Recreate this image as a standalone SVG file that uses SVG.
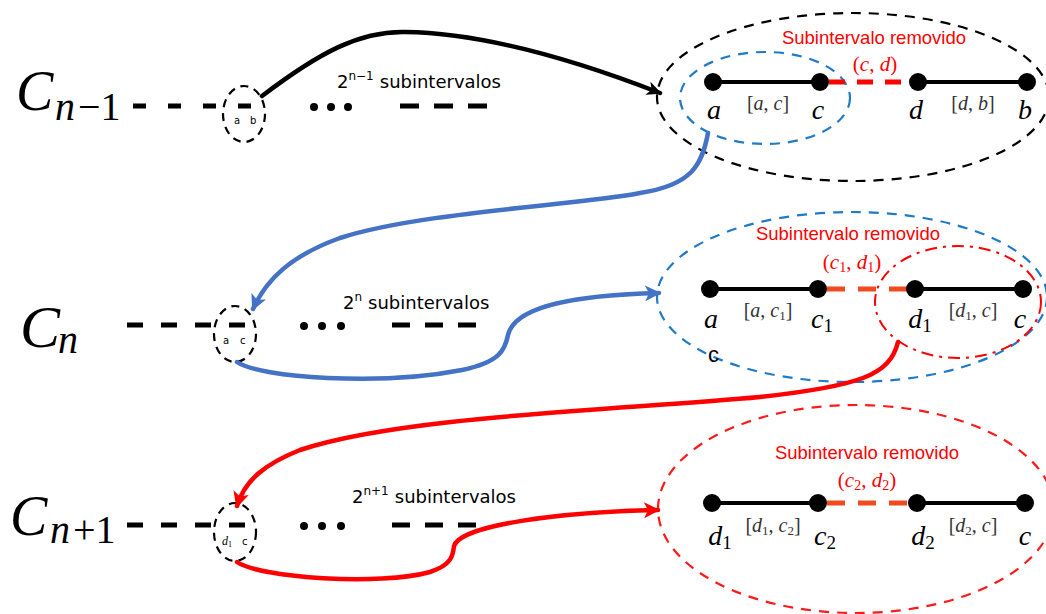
<svg xmlns="http://www.w3.org/2000/svg" width="1046" height="614" viewBox="0 0 1046 614">
<style>
.bg{fill:#ffffff}
.cap{font-family:"Liberation Serif","DejaVu Serif",serif;font-style:italic;fill:#000}
.sub{font-family:"Liberation Serif","DejaVu Serif",serif;fill:#000}
.cnt{font-family:"DejaVu Sans","Liberation Sans",sans-serif;font-size:18px;fill:#000}
.sup{font-size:12px}
.tiny{font-family:"DejaVu Sans","Liberation Sans",sans-serif;font-size:10px;fill:#000}
.dash{stroke:#000;stroke-width:5;fill:none}
.dot{fill:#000}
.small{fill:none;stroke:#000;stroke-width:2.2;stroke-dasharray:8 6}
.seg{stroke:#000;stroke-width:4}
.pt{fill:#000}
.lbl{font-family:"Liberation Serif","DejaVu Serif",serif;font-style:italic;font-size:28px;fill:#000;text-anchor:middle}
.lsub{font-style:normal;font-size:19px}
.int{font-family:"Liberation Serif","DejaVu Serif",serif;font-size:20px;fill:#333;text-anchor:middle}
.int tspan.v{font-style:italic}
.rem{font-family:"Liberation Sans","Noto Sans",sans-serif;font-size:18.5px;fill:#ff0000;text-anchor:middle}
.remm{font-family:"Liberation Serif","DejaVu Serif",serif;font-size:21px;fill:#ff0000;text-anchor:middle}
.conn{fill:none;stroke-width:4.5;stroke-linecap:round}
</style>
<defs>
<marker id="ab" markerUnits="userSpaceOnUse" markerWidth="16" markerHeight="14" refX="13" refY="7" orient="auto"><path d="M0,0 L15,7 L0,14 L4,7 z" fill="#000"/></marker>
<marker id="abl" markerUnits="userSpaceOnUse" markerWidth="18" markerHeight="16" refX="14" refY="8" orient="auto"><path d="M0,0 L16,8 L0,16 L4,8 z" fill="#4472c4"/></marker>
<marker id="ar" markerUnits="userSpaceOnUse" markerWidth="18" markerHeight="16" refX="14" refY="8" orient="auto"><path d="M0,0 L16,8 L0,16 L4,8 z" fill="#ff0000"/></marker>
</defs>
<rect class="bg" x="0" y="0" width="1046" height="614"/>

<!-- Row 1 -->
<g id="row1-label">
<text class="cap" x="16" y="110" font-size="56">C</text>
<text class="sub" x="55" y="120" font-size="40"><tspan font-style="italic">n</tspan><tspan dx="3">−1</tspan></text>
</g>
<g id="row1-line">
<line class="dash" x1="133" y1="106" x2="252" y2="106" stroke-dasharray="13 22"/>
<circle class="dot" cx="314" cy="107" r="4"/><circle class="dot" cx="331" cy="107" r="4"/><circle class="dot" cx="348" cy="107" r="4"/>
<line class="dash" x1="400" y1="106" x2="487" y2="106" stroke-dasharray="19 15"/>
<text class="cnt" x="337" y="88">2<tspan class="sup" dy="-8">n−1</tspan><tspan dx="6" dy="8">subintervalos</tspan></text>
</g>
<g id="row1-circle">
<ellipse class="small" cx="244" cy="114" rx="21" ry="28"/>
<text class="tiny" x="234" y="124">a</text><text class="tiny" x="250" y="124">b</text>
</g>
<g id="row1-detail">
<ellipse cx="853" cy="97" rx="196" ry="84" fill="none" stroke="#000" stroke-width="2.2" stroke-dasharray="10 8"/>
<ellipse cx="765" cy="98" rx="85" ry="46" fill="none" stroke="#1f7ac8" stroke-width="2.2" stroke-dasharray="10 8"/>
<line class="seg" x1="713" y1="82" x2="820" y2="82"/>
<line class="seg" x1="918" y1="82" x2="1027" y2="82"/>
<line x1="829" y1="82" x2="910" y2="82" stroke="#ff0000" stroke-width="5" stroke-dasharray="16 12"/>
<circle class="pt" cx="713" cy="82" r="9"/><circle class="pt" cx="820" cy="82" r="9"/><circle class="pt" cx="918" cy="82" r="9"/><circle class="pt" cx="1027" cy="82" r="9"/>
<text class="lbl" x="714" y="119">a</text><text class="lbl" x="818" y="119">c</text><text class="lbl" x="916" y="119">d</text><text class="lbl" x="1025" y="119">b</text>
<text class="int" x="768" y="110">[<tspan class="v">a</tspan>, <tspan class="v">c</tspan>]</text>
<text class="int" x="973" y="110">[<tspan class="v">d</tspan>, <tspan class="v">b</tspan>]</text>
<text class="rem" x="874" y="44">Subintervalo removido</text>
<text class="remm" x="875" y="71">(<tspan font-style="italic">c</tspan>, <tspan font-style="italic">d</tspan>)</text>
</g>

<!-- Row 2 -->
<g id="row2-label">
<text class="cap" x="20" y="347" font-size="60">C</text>
<text class="sub" x="58" y="353" font-size="40" font-style="italic">n</text>
</g>
<g id="row2-line">
<line class="dash" x1="127" y1="325" x2="245" y2="325" stroke-dasharray="16 18"/>
<circle class="dot" cx="304" cy="326" r="4"/><circle class="dot" cx="322" cy="326" r="4"/><circle class="dot" cx="341" cy="326" r="4"/>
<line class="dash" x1="392" y1="325" x2="478" y2="325" stroke-dasharray="18 15"/>
<text class="cnt" x="343" y="309">2<tspan class="sup" dy="-8">n</tspan><tspan dx="6" dy="8">subintervalos</tspan></text>
</g>
<g id="row2-circle">
<ellipse class="small" cx="235" cy="334" rx="21" ry="28"/>
<text class="tiny" x="223" y="344">a</text><text class="tiny" x="240" y="344">c</text>
</g>
<g id="row2-detail">
<ellipse cx="852" cy="297" rx="195" ry="85" fill="none" stroke="#1f7ac8" stroke-width="2.2" stroke-dasharray="10 8"/>
<ellipse cx="958" cy="302" rx="83" ry="56" fill="none" stroke="#ff0000" stroke-width="2" stroke-dasharray="12 6 3 6"/>
<line class="seg" x1="710" y1="289" x2="818" y2="289"/>
<line class="seg" x1="915" y1="289" x2="1023" y2="289"/>
<line x1="827" y1="289" x2="907" y2="289" stroke="#f04a1e" stroke-width="5" stroke-dasharray="18 13"/>
<circle class="pt" cx="710" cy="289" r="9"/><circle class="pt" cx="818" cy="289" r="9"/><circle class="pt" cx="915" cy="289" r="9"/><circle class="pt" cx="1023" cy="289" r="9"/>
<text class="lbl" x="711" y="328">a</text>
<text class="lbl" x="822" y="328">c<tspan class="lsub" dy="4">1</tspan></text>
<text class="lbl" x="920" y="328">d<tspan class="lsub" dy="4">1</tspan></text>
<text class="lbl" x="1020" y="328">c</text>
<text class="int" x="768" y="317">[<tspan class="v">a</tspan>, <tspan class="v">c</tspan><tspan font-size="13" dy="3">1</tspan><tspan dy="-3">]</tspan></text>
<text class="int" x="973" y="317">[<tspan class="v">d</tspan><tspan font-size="13" dy="3">1</tspan><tspan dy="-3">, </tspan><tspan class="v">c</tspan>]</text>
<text class="rem" x="848" y="240">Subintervalo removido</text>
<text class="remm" x="852" y="269">(<tspan font-style="italic">c</tspan><tspan font-size="14" dy="3">1</tspan><tspan dy="-3">, </tspan><tspan font-style="italic">d</tspan><tspan font-size="14" dy="3">1</tspan><tspan dy="-3">)</tspan></text>
<text x="708" y="362" font-family="Liberation Sans, sans-serif" font-size="22" fill="#000">c</text>
</g>

<!-- Row 3 -->
<g id="row3-label">
<text class="cap" x="10" y="535" font-size="56">C</text>
<text class="sub" x="50" y="543" font-size="40"><tspan font-style="italic">n</tspan><tspan dx="3">+1</tspan></text>
</g>
<g id="row3-line">
<line class="dash" x1="127" y1="525" x2="245" y2="525" stroke-dasharray="16 18"/>
<circle class="dot" cx="304" cy="526" r="4"/><circle class="dot" cx="322" cy="526" r="4"/><circle class="dot" cx="341" cy="526" r="4"/>
<line class="dash" x1="392" y1="525" x2="478" y2="525" stroke-dasharray="18 15"/>
<text class="cnt" x="352" y="503">2<tspan class="sup" dy="-8">n+1</tspan><tspan dx="6" dy="8">subintervalos</tspan></text>
</g>
<g id="row3-circle">
<ellipse class="small" cx="235" cy="532" rx="21" ry="29"/>
<text x="222" y="545" font-family="Liberation Serif, serif" font-style="italic" font-size="12" fill="#000">d<tspan font-style="normal" font-size="8" dy="2">1</tspan></text>
<text class="tiny" x="242" y="545">c</text>
</g>
<g id="row3-detail">
<ellipse cx="856" cy="509" rx="198" ry="104" fill="none" stroke="#ff1a1a" stroke-width="2.2" stroke-dasharray="10 8"/>
<line class="seg" x1="712" y1="503" x2="818" y2="503"/>
<line class="seg" x1="917" y1="503" x2="1025" y2="503"/>
<line x1="827" y1="503" x2="909" y2="503" stroke="#f04a1e" stroke-width="5" stroke-dasharray="18 13"/>
<circle class="pt" cx="712" cy="503" r="9"/><circle class="pt" cx="818" cy="503" r="9"/><circle class="pt" cx="917" cy="503" r="9"/><circle class="pt" cx="1025" cy="503" r="9"/>
<text class="lbl" x="720" y="545">d<tspan class="lsub" dy="4">1</tspan></text>
<text class="lbl" x="825" y="545">c<tspan class="lsub" dy="4">2</tspan></text>
<text class="lbl" x="923" y="545">d<tspan class="lsub" dy="4">2</tspan></text>
<text class="lbl" x="1025" y="545">c</text>
<text class="int" x="773" y="532">[<tspan class="v">d</tspan><tspan font-size="13" dy="3">1</tspan><tspan dy="-3">, </tspan><tspan class="v">c</tspan><tspan font-size="13" dy="3">2</tspan><tspan dy="-3">]</tspan></text>
<text class="int" x="973" y="532">[<tspan class="v">d</tspan><tspan font-size="13" dy="3">2</tspan><tspan dy="-3">, </tspan><tspan class="v">c</tspan>]</text>
<text class="rem" x="867" y="459">Subintervalo removido</text>
<text class="remm" x="867" y="487">(<tspan font-style="italic">c</tspan><tspan font-size="14" dy="3">2</tspan><tspan dy="-3">, </tspan><tspan font-style="italic">d</tspan><tspan font-size="14" dy="3">2</tspan><tspan dy="-3">)</tspan></text>
</g>

<!-- Connectors -->
<g id="connectors">
<path class="conn" stroke="#000" stroke-width="4" d="M262 96 C320 52 360 31 405 32 C480 33 570 58 660 93" marker-end="url(#ab)"/>
<path class="conn" stroke="#4472c4" d="M708 133 C702 165 692 185 640 193 C580 205 420 212 340 238 C290 256 266 280 253 309" marker-end="url(#abl)"/>
<path class="conn" stroke="#4472c4" d="M237 362 C260 378 380 386 462 370 C500 362 505 350 508 335 C515 305 580 295 659 293" marker-end="url(#abl)"/>
<path class="conn" stroke="#ff0000" d="M898 342 C890 375 860 386 760 397 C620 410 400 416 300 450 C265 464 245 480 237 506" marker-end="url(#ar)"/>
<path class="conn" stroke="#ff0000" d="M237 562 C260 578 380 586 430 572 C452 565 453 555 454 546 C460 525 560 512 658 510" marker-end="url(#ar)"/>
</g>
</svg>
